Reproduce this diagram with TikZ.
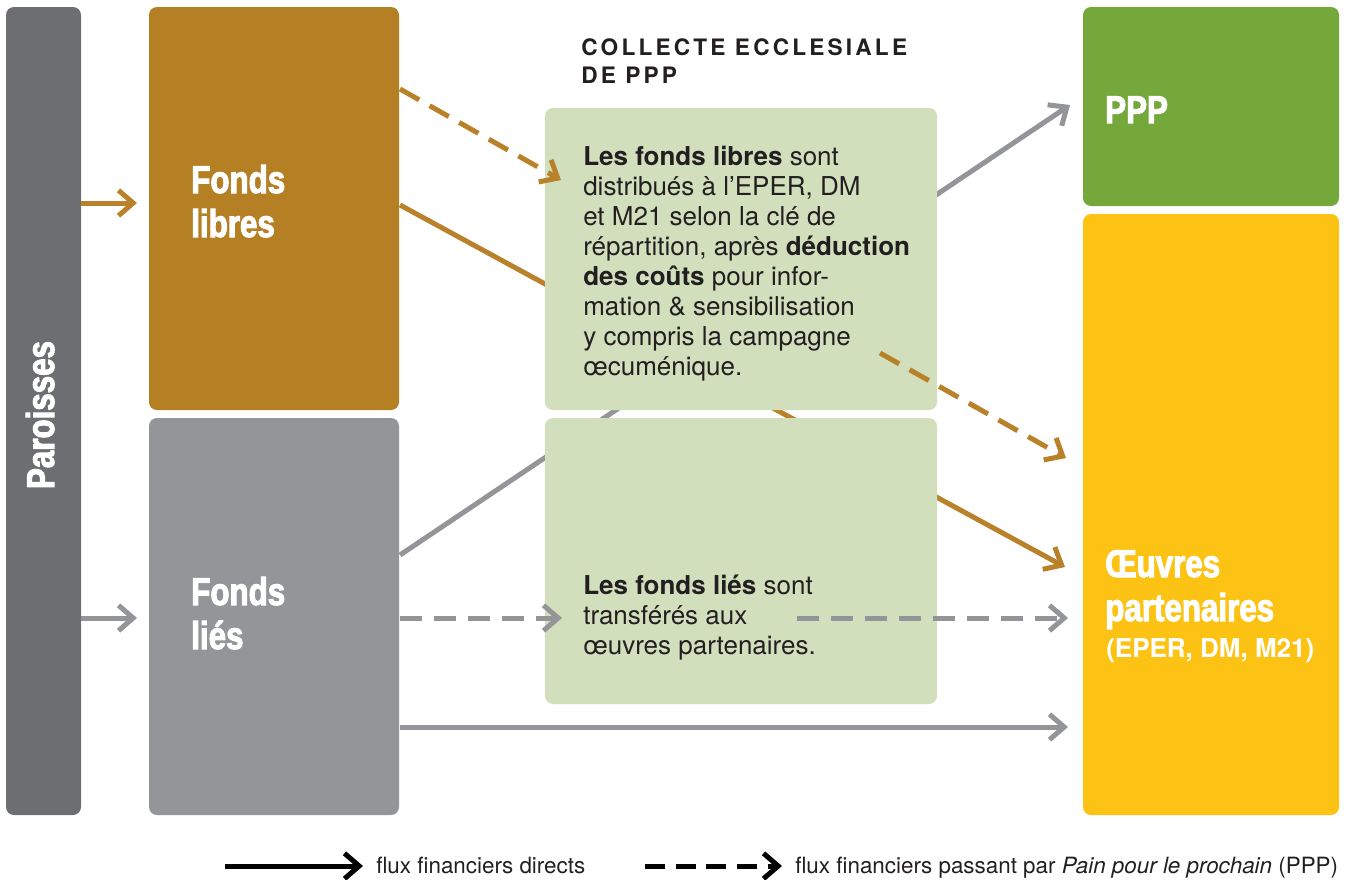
\documentclass[tikz,border=0pt]{standalone}
\usepackage{fontspec}
\setmainfont{TeX Gyre Heros}
\newfontfamily\hfont[FakeStretch=0.81,FakeBold=2.6]{Liberation Sans}
\newfontfamily\titlefont[LetterSpace=14]{TeX Gyre Heros}
\usetikzlibrary{arrows.meta}
\definecolor{parcol}{HTML}{6D6E72}
\definecolor{browncol}{HTML}{B57F24}
\definecolor{graycol}{HTML}{939598}
\definecolor{greenlt}{HTML}{D1DFBD}
\definecolor{pppcol}{HTML}{74A83B}
\definecolor{yellowcol}{HTML}{FCC315}
\definecolor{txt}{HTML}{231F20}
\definecolor{arrgray}{HTML}{939598}
\definecolor{arrbrown}{HTML}{B8812A}
\tikzset{
  box/.style={rounded corners=6pt, inner sep=0pt, outer sep=0pt},
  head/.style={text=white, font=\hfont\bfseries\fontsize{29}{33}\selectfont, align=left, inner sep=0pt, anchor=base west},
  body/.style={text=txt, font=\fontsize{19.5}{22.5}\selectfont, align=left, inner sep=0pt, anchor=base west},
  legtext/.style={text=txt, font=\fontsize{16.8}{20}\selectfont, inner sep=0pt, anchor=base west},
  flow/.style={line width=3.75pt, -{Straight Barb[length=11pt,width=19pt]}},
  direct/.style={flow},
  viappp/.style={flow, dash pattern=on 16.5pt off 9pt},
}
\begin{document}
\begin{tikzpicture}[x=0.75pt,y=-0.75pt]
\useasboundingbox (0,0) rectangle (1349,879);
% main boxes
\node[box, fill=parcol, minimum width=56.25pt, minimum height=606pt] (par) at (43.5,411) {};
\node[box, fill=browncol, minimum width=187.5pt, minimum height=302.25pt] (fl) at (274,208.5) {};
\node[box, fill=graycol, minimum width=187.5pt, minimum height=297.75pt] (fli) at (274,616.5) {};
\node[box, fill=pppcol, minimum width=192pt, minimum height=149.25pt] (ppp) at (1211,106.5) {};
\node[box, fill=yellowcol, minimum width=192pt, minimum height=450.75pt] (oe) at (1211,514.5) {};
% connector end points
\coordinate (a1s) at (81,203);   \coordinate (a1e) at (137,203);
\coordinate (a2s) at (81,618);   \coordinate (a2e) at (137,618);
\coordinate (b1s) at (400,89);   \coordinate (b1e) at (561,180);
\coordinate (b2s) at (400,205);  \coordinate (b2e) at (1065,567);
\coordinate (b3s) at (880,353);  \coordinate (b3e) at (1066,458);
\coordinate (c1s) at (400,555);  \coordinate (c1e) at (1070,105);
\coordinate (c2s) at (400,618);  \coordinate (c2e) at (562,618);
\coordinate (c3s) at (797,618);  \coordinate (c3e) at (1068,618);
\coordinate (c4s) at (400,727);  \coordinate (c4e) at (1068,727);
% long lines passing behind the PPP boxes
\draw[direct, arrbrown] (b2s) -- (b2e);
\draw[direct, arrgray] (c1s) -- (c1e);
% PPP collection boxes
\node[box, fill=greenlt, minimum width=294pt, minimum height=226.5pt] (g1) at (741,259) {};
\node[box, fill=greenlt, minimum width=294pt, minimum height=214.5pt] (g2) at (741,561) {};
% other flows
\draw[direct, arrbrown] (a1s) -- (a1e);
\draw[direct, arrgray] (a2s) -- (a2e);
\draw[viappp, arrbrown] (b1s) -- (b1e);
\draw[viappp, arrbrown] (b3s) -- (b3e);
\draw[viappp, arrgray] (c2s) -- (c2e);
\draw[viappp, arrgray] (c3s) -- (c3e);
\draw[direct, arrgray] (c4s) -- (c4e);
% texts (anchor = baseline of the last line)
\node[head, rotate=90, anchor=base] (tpar) at (54,415) {Paroisses};
\node[head] (tfl) at (191,237) {Fonds\\libres};
\node[head] (tfli) at (191,649) {Fonds\\liés};
\node[head] (tppp) at (1105,123) {PPP};
\node[head] (toe) at (1105,621) {Œuvres\\partenaires};
\node[text=white, font=\bfseries\fontsize{19.5}{22}\selectfont, inner sep=0pt, anchor=base west] (toe2) at (1106,657) {(EPER, DM, M21)};
\node[text=txt, font=\titlefont\bfseries\fontsize{17}{21}\selectfont, align=left, inner sep=0pt, anchor=base west] (ttitle) at (581,83) {COLLECTE ECCLESIALE\\DE PPP};
\node[body] (tg1) at (583,375) {\textbf{Les fonds libres} sont\\distribués à l’EPER, DM\\et M21 selon la clé de\\répartition, après \textbf{déduction}\\\textbf{des coûts} pour infor-\\mation \& sensibilisation\\y compris la campagne\\œcuménique.};
\node[body] (tg2) at (583,654) {\textbf{Les fonds liés} sont\\transférés aux\\œuvres partenaires.};
% legend
\coordinate (l1s) at (225,866); \coordinate (l1e) at (363,866);
\coordinate (l2s) at (645,866); \coordinate (l2e) at (782,866);
\draw[direct, black] (l1s) -- (l1e);
\draw[flow, black, dash pattern=on 15pt off 8pt] (l2s) -- (l2e);
\node[legtext] (lt1) at (376,873) {flux financiers directs};
\node[legtext] (lt2) at (795,873) {flux financiers passant par \textit{Pain pour le prochain} (PPP)};
\end{tikzpicture}
\end{document}
